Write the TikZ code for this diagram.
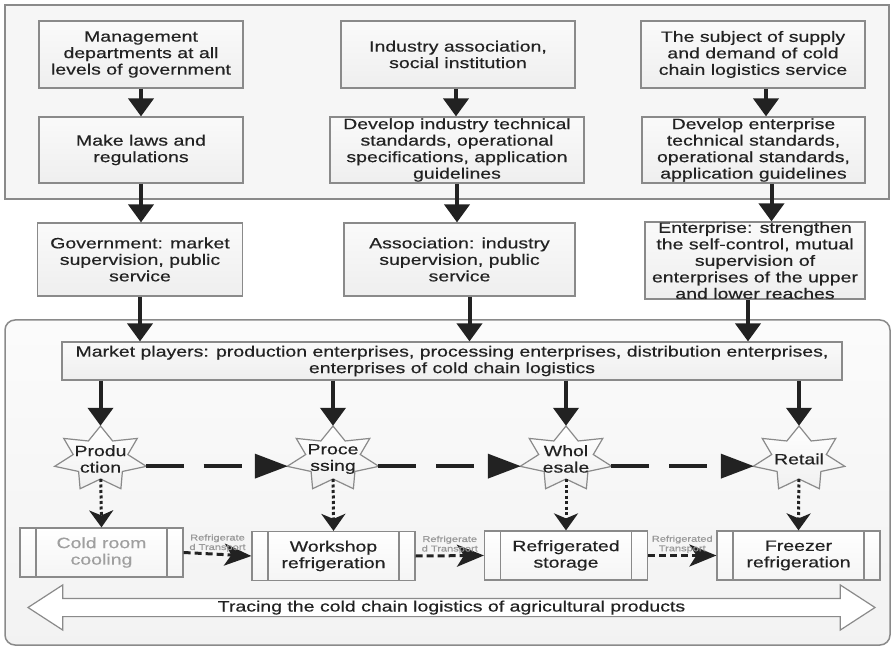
\documentclass[tikz,border=0pt]{standalone}
\usepackage{fontspec}
\setmainfont{Liberation Sans}[FakeStretch=1.3, FakeBold=0.4]
\usetikzlibrary{arrows.meta,shapes.geometric,shapes.arrows}
\definecolor{ink}{HTML}{222222}
\definecolor{edge}{HTML}{8A8A8A}
\tikzset{
	box/.style={draw=edge, line width=1.2pt, top color=gray!4, bottom color=gray!13, align=center, inner sep=0pt, text=ink, font=\fontsize{15}{16.5}\selectfont},
	procbox/.style={box, top color=white, bottom color=gray!8, minimum width=163pt, minimum height=49pt,
		path picture={\draw[edge, line width=1.2pt] ([xshift=16pt]path picture bounding box.north west) -- ([xshift=16pt]path picture bounding box.south west)
			([xshift=-16pt]path picture bounding box.north east) -- ([xshift=-16pt]path picture bounding box.south east);}},
	startext/.style={ellipse, minimum width=92pt, minimum height=66pt, inner sep=0pt, align=center, text=ink, font=\fontsize{15}{16.5}\selectfont},
	stepdown/.style={draw=ink, line width=4pt, -{Triangle[width=25pt,length=18pt]}},
	flowline/.style={draw=ink, line width=3.5pt, dash pattern=on 38pt off 20pt, -{Triangle[width=24pt,length=33pt]}},
	dotline/.style={draw=ink, line width=3pt, dash pattern=on 3pt off 2.5pt, -{Stealth[width=24pt,length=17pt,inset=5pt]}},
	shipline/.style={draw=ink, line width=3pt, dash pattern=on 7pt off 4pt, -{Stealth[width=22pt,length=27pt,inset=7pt]}},
	shiplabel/.style={font=\fontsize{8.5}{9.5}\selectfont, text=gray!80, align=center, inner sep=1pt}
}
\begin{document}
\begin{tikzpicture}[x=1pt, y=-1pt]
	\useasboundingbox (0,0) rectangle (895,647);
	\draw[edge, line width=1.5pt, fill=gray!7] (5,5) rectangle (889,199);
	\draw[edge, line width=1.5pt, rounded corners=10pt, top color=gray!3, bottom color=gray!10] (5,320) rectangle (890,645);
	\node[box, minimum width=204pt, minimum height=67pt] (1) at (141,54.5) {Management\\departments at all\\levels of government};
	\node[box, minimum width=234pt, minimum height=67pt] (2) at (458,54.5) {Industry association,\\social institution};
	\node[box, minimum width=224pt, minimum height=67pt] (3) at (753,54.5) {The subject of supply\\and demand of cold\\chain logistics service};
	\node[box, minimum width=204pt, minimum height=66pt] (4) at (141,150) {Make laws and\\regulations};
	\node[box, minimum width=254pt, minimum height=66pt] (5) at (457,150) {Develop industry technical\\standards, operational\\specifications, application\\guidelines};
	\node[box, minimum width=223pt, minimum height=66pt] (6) at (753.5,150) {Develop enterprise\\technical standards,\\operational standards,\\application guidelines};
	\node[box, minimum width=205pt, minimum height=73pt] (7) at (140,259.5) {Government: market\\supervision, public\\service};
	\node[box, minimum width=231pt, minimum height=73pt] (8) at (459.5,259.5) {Association: industry\\supervision, public\\service};
	\node[box, minimum width=220pt, minimum height=75pt] (9) at (755,260.5) {Enterprise: strengthen\\the self-control, mutual\\supervision of\\enterprises of the upper\\and lower reaches};
	\node[box, minimum width=780pt, minimum height=38pt] (10) at (452,361) {Market players: production enterprises, processing enterprises, distribution enterprises,\\enterprises of cold chain logistics};
	\foreach \cx in {100.5,333,566,799}
		\draw[edge, line width=1.2pt, top color=white, bottom color=gray!12] ({\cx},426) \foreach \k in {1,...,13} {-- ({\cx+ifthenelse(isodd(\k),28,47)*cos(90+\k*180/7)}, {459-ifthenelse(isodd(\k),20,33)*sin(90+\k*180/7)})} -- cycle;
	\node[startext] (11) at (100.5,459) {Produ\\ction};
	\node[startext] (12) at (333,459) {Proce\\ssing};
	\node[startext] (13) at (566,459) {Whol\\esale};
	\node[startext] (14) at (799,459) {Retail};
	\node[procbox, text=gray!75] (15) at (101.5,552.5) {Cold room\\cooling};
	\node[procbox] (16) at (333.5,556) {Workshop\\refrigeration};
	\node[procbox] (17) at (566,555.5) {Refrigerated\\storage};
	\node[procbox] (18) at (798.5,555.5) {Freezer\\refrigeration};
	\node[double arrow, draw=edge, line width=1.2pt, fill=white, minimum height=847pt, double arrow head extend=13.5pt, double arrow tip angle=66, inner xsep=0pt, inner ysep=1.5pt, text height=11pt, text depth=3pt, text=ink, font=\fontsize{15}{16.5}\selectfont] (19) at (451.5,607.5) {Tracing the cold chain logistics of agricultural products};
	\draw[stepdown] (1.south) -- (1.south |- 4.north);
	\draw[stepdown] (4.south) -- (4.south |- 7.north);
	\draw[stepdown] (7.south) -- (7.south |- 10.north);
	\draw[stepdown] ([xshift=-2pt]2.south) -- ([xshift=-2pt]2.south |- 5.north);
	\draw[stepdown] (5.south) -- (5.south |- 8.north);
	\draw[stepdown] ([xshift=10pt]8.south) -- ([xshift=10pt]8.south |- 10.north);
	\draw[stepdown] ([xshift=13pt]3.south) -- ([xshift=13pt]3.south |- 6.north);
	\draw[stepdown] ([xshift=18pt]6.south) -- ([xshift=18pt]6.south |- 9.north);
	\draw[stepdown] ([xshift=-7pt]9.south) -- ([xshift=-7pt]9.south |- 10.north);
	\draw[stepdown] (10.south -| 11) -- (11.north);
	\draw[stepdown] (10.south -| 12) -- (12.north);
	\draw[stepdown] (10.south -| 13) -- (13.north);
	\draw[stepdown] (10.south -| 14) -- (14.north);
	\draw[flowline] (11.-9) -- (12.189);
	\draw[flowline] (12.-9) -- (13.189);
	\draw[flowline] (13.-9) -- (14.189);
	\draw[dotline, shorten <=20pt] (11.center) -- (15.north);
	\draw[dotline, shorten <=20pt] (12.center) -- (16.north);
	\draw[dotline, shorten <=20pt] (13.center) -- (17.north);
	\draw[dotline, shorten <=20pt] (14.center) -- (18.north);
	\draw[shipline] (15.east) -- node[shiplabel, above] {Refrigerate\\d Transport} (16.west);
	\draw[shipline] (16.east) -- node[shiplabel, above] {Refrigerate\\d Transport} (17.west);
	\draw[shipline] (17.east) -- node[shiplabel, above] {Refrigerated\\Transport} (18.west);
\end{tikzpicture}
\end{document}
